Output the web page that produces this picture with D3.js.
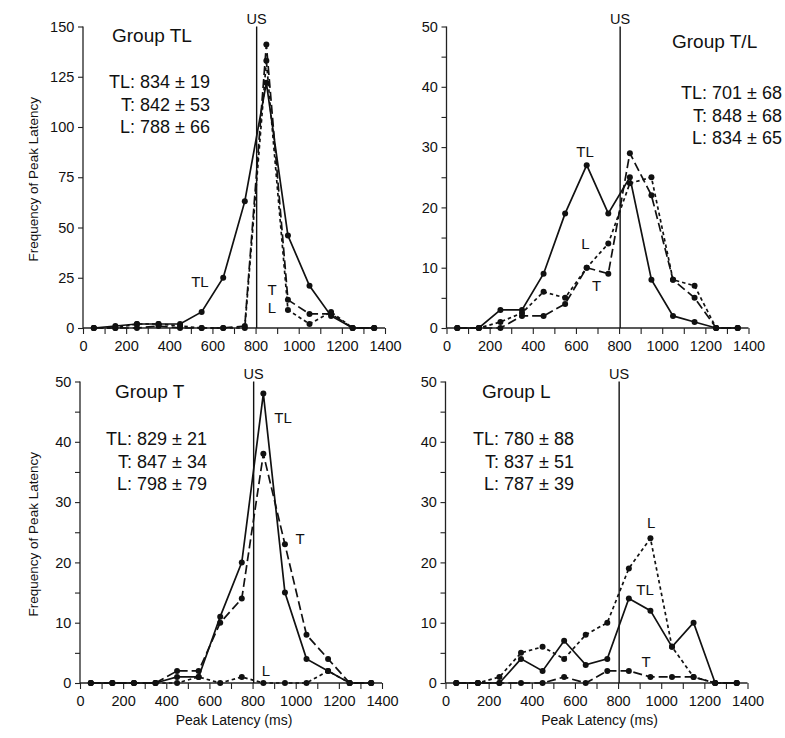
<!DOCTYPE html>
<html>
<head>
<meta charset="utf-8">
<script src="https://cdn.jsdelivr.net/npm/d3@7"></script>
<style>
  body { margin: 0; background: #fff; }
  text { font-family: "Liberation Sans", Arial, sans-serif; fill: #111; }
</style>
</head>
<body>
<div id="chart"></div>
<script>
// bin centres (ms)
const latency = [50, 150, 250, 350, 450, 550, 650, 750, 850, 950, 1050, 1150, 1250, 1350];
const xTicks = [0, 100, 200, 300, 400, 500, 600, 700, 800, 900, 1000, 1100, 1200, 1300, 1400];
const usTime = 805;

// Group TL
const groupTL_TL = [0, 1, 2, 2, 2, 8, 25, 63, 122, 46, 21, 6, 0, 0];
const groupTL_T  = [0, 0, 0, 1, 0, 0, 0, 1, 141, 14, 7, 7, 0, 0];
const groupTL_L  = [0, 0, 2, 2, 1, 0, 0, 0, 133, 9, 2, 8, 0, 0];
// Group T/L
const groupTsL_TL = [0, 0, 3, 3, 9, 19, 27, 19, 25, 8, 2, 1, 0, 0];
const groupTsL_T  = [0, 0, 0, 2, 2, 4, 10, 9, 29, 22, 8, 5, 0, 0];
const groupTsL_L  = [0, 0, 1, 2.5, 6, 5, 10, 14, 24, 25, 8, 7, 0, 0];
// Group T
const groupT_TL = [0, 0, 0, 0, 1, 1, 11, 20, 48, 15, 4, 2, 0, 0];
const groupT_T  = [0, 0, 0, 0, 2, 2, 10, 14, 38, 23, 8, 4, 0, 0];
const groupT_L  = [0, 0, 0, 0, 0, 1, 0, 1, 0, 0, 0, 2, 0, 0];
// Group L
const groupL_TL = [0, 0, 0, 4, 2, 7, 3, 4, 14, 12, 6, 10, 0, 0];
const groupL_T  = [0, 0, 0, 0, 0, 1, 0, 2, 2, 1, 1, 1, 0, 0];
const groupL_L  = [0, 0, 1, 5, 6, 4, 8, 10, 19, 24, 6, 1, 0, 0];

const groupNames = ['Group TL', 'Group T/L', 'Group T', 'Group L'];
const statTexts = [
  ['TL: 834 ± 19', 'T: 842 ± 53', 'L: 788 ± 66'],
  ['TL: 701 ± 68', 'T: 848 ± 68', 'L: 834 ± 65'],
  ['TL: 829 ± 21', 'T: 847 ± 34', 'L: 798 ± 79'],
  ['TL: 780 ± 88', 'T: 837 ± 51', 'L: 787 ± 39']
];

// per-panel layout
const panels = [
  { x0: 83, x1: 385, y0: 328, y1: 26.5, yMax: 150, yTicks: d3.range(0, 151, 25), yLabelEvery: 25,
    series: [groupTL_TL, groupTL_T, groupTL_L],
    group: { x: 112, y: 42 }, stats: { x: 210, y: 88 },
    labels: [['TL', 542, 23], ['T', 876, 19], ['L', 876, 10]], yTitle: true, xTitle: false },
  { x0: 446.5, x1: 748.5, y0: 328, y1: 26.5, yMax: 50, yTicks: d3.range(0, 51, 5), yLabelEvery: 10,
    series: [groupTsL_TL, groupTsL_T, groupTsL_L],
    group: { x: 672, y: 48 }, stats: { x: 782, y: 99 },
    labels: [['TL', 642, 29.3], ['L', 644, 14], ['T', 696, 7]], yTitle: false, xTitle: false },
  { x0: 80, x1: 382, y0: 683, y1: 381.5, yMax: 50, yTicks: d3.range(0, 51, 5), yLabelEvery: 10,
    series: [groupT_TL, groupT_T, groupT_L],
    group: { x: 115, y: 398 }, stats: { x: 207, y: 445 },
    labels: [['TL', 941, 44], ['T', 1020, 24], ['L', 862, 2]], yTitle: true, xTitle: true },
  { x0: 445.5, x1: 747.5, y0: 683, y1: 381.5, yMax: 50, yTicks: d3.range(0, 51, 5), yLabelEvery: 10,
    series: [groupL_TL, groupL_T, groupL_L],
    group: { x: 482, y: 398 }, stats: { x: 574, y: 445 },
    labels: [['L', 953, 26.5], ['TL', 925, 15.5], ['T', 930, 3.5]], yTitle: false, xTitle: true }
];

// solid = TL, long dash = T, short dash = L
const dashes = [null, '9,4', '3.5,3'];

const svg = d3.select('#chart')
  .append('svg')
  .attr('width', 785)
  .attr('height', 738);

panels.forEach((p, i) => {
  const x = d3.scaleLinear().domain([0, 1400]).range([p.x0, p.x1]);
  const y = d3.scaleLinear().domain([0, p.yMax]).range([p.y0, p.y1]);
  const g = svg.append('g');

  // axes
  const xAxis = d3.axisBottom(x)
    .tickValues(xTicks)
    .tickSize(6)
    .tickFormat(d => d % 200 === 0 ? d : '');
  const gx = g.append('g').attr('transform', `translate(0,${p.y0})`).call(xAxis);

  const yAxis = d3.axisLeft(y)
    .tickValues(p.yTicks)
    .tickSize(5)
    .tickFormat(d => d % p.yLabelEvery === 0 ? d : '');
  const gy = g.append('g').attr('transform', `translate(${p.x0},0)`).call(yAxis);

  [gx, gy].forEach(a => {
    a.select('.domain').attr('stroke', '#222').attr('stroke-width', 1.3);
    a.selectAll('.tick line').attr('stroke', '#222').attr('stroke-width', 1.1);
    a.selectAll('.tick text')
      .attr('font-size', 14.5)
      .attr('font-family', '"Liberation Sans", Arial, sans-serif')
      .attr('fill', '#111');
  });
  gx.selectAll('.tick text').attr('dy', '0.95em');
  gy.selectAll('.tick text').attr('dx', '-0.05em');
  // no end caps on the domain paths
  gx.select('.domain').attr('d', `M${p.x0},0H${p.x1}`);
  gy.select('.domain').attr('d', `M0,${p.y0}V${p.y1}`);

  // US line
  g.append('line')
    .attr('x1', x(usTime)).attr('x2', x(usTime))
    .attr('y1', p.y1).attr('y2', p.y0)
    .attr('stroke', '#111').attr('stroke-width', 1.4);
  g.append('text')
    .attr('x', x(usTime)).attr('y', p.y1 - 3)
    .attr('text-anchor', 'middle')
    .attr('font-size', 14.5)
    .text('US');

  // series
  const line = d3.line()
    .x((d, k) => x(latency[k]))
    .y(d => y(d));

  p.series.forEach((s, k) => {
    g.append('path')
      .datum(s)
      .attr('fill', 'none')
      .attr('stroke', '#111')
      .attr('stroke-width', 1.7)
      .attr('stroke-dasharray', dashes[k])
      .attr('d', line);

    g.append('g')
      .selectAll('circle')
      .data(s)
      .join('circle')
      .attr('cx', (d, j) => x(latency[j]))
      .attr('cy', d => y(d))
      .attr('r', 3)
      .attr('fill', '#111');
  });

  // series labels
  p.labels.forEach(l => {
    g.append('text')
      .attr('x', x(l[1]))
      .attr('y', y(l[2]))
      .attr('dy', '0.35em')
      .attr('text-anchor', 'middle')
      .attr('font-size', 15)
      .text(l[0]);
  });

  // group title and stats
  g.append('text')
    .attr('x', p.group.x).attr('y', p.group.y)
    .attr('font-size', 19)
    .text(groupNames[i]);

  g.append('g')
    .selectAll('text')
    .data(statTexts[i])
    .join('text')
    .attr('x', p.stats.x)
    .attr('y', (d, k) => p.stats.y + k * 22.5)
    .attr('text-anchor', 'end')
    .attr('font-size', 18)
    .text(d => d);

  // axis titles
  if (p.yTitle) {
    g.append('text')
      .attr('transform', `translate(38,${(p.y0 + p.y1) / 2 + 2}) rotate(-90)`)
      .attr('text-anchor', 'middle')
      .attr('font-size', 13.5)
      .text('Frequency of Peak Latency');
  }
  if (p.xTitle) {
    g.append('text')
      .attr('x', (p.x0 + p.x1) / 2 + 3)
      .attr('y', 725)
      .attr('text-anchor', 'middle')
      .attr('font-size', 14)
      .text('Peak Latency (ms)');
  }
});
</script>
</body>
</html>
